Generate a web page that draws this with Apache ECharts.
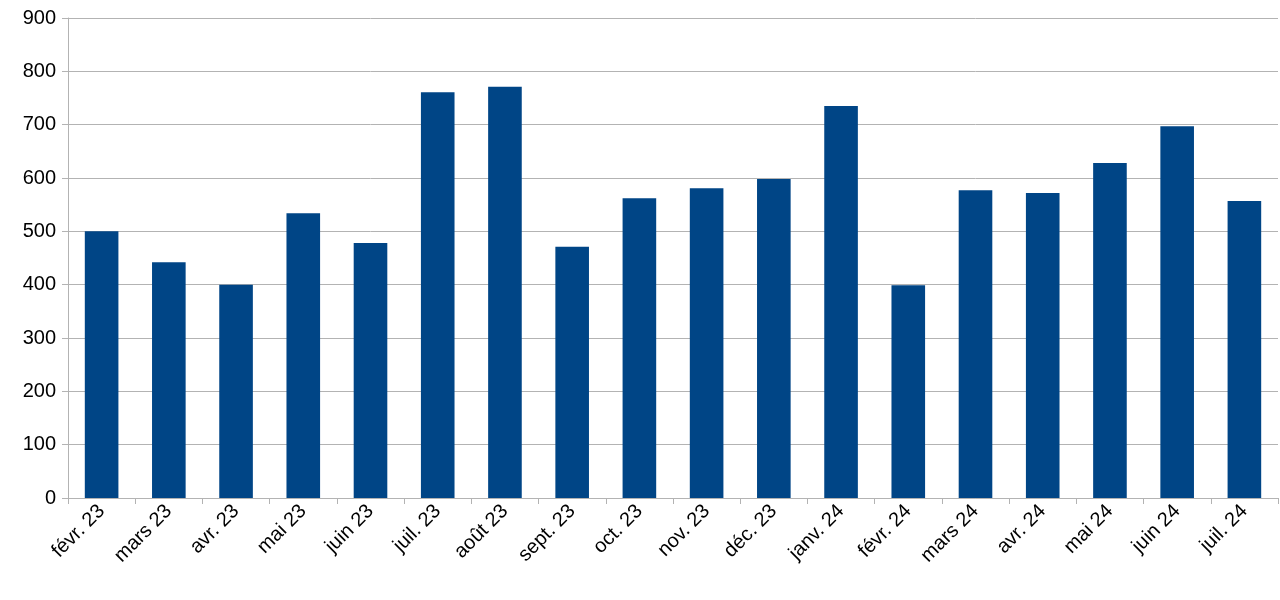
<!DOCTYPE html>
<html><head><meta charset="utf-8">
<script src="https://cdn.jsdelivr.net/npm/echarts@6/dist/echarts.min.js"></script>
<style>html,body{margin:0;background:#fff}#main{width:1280px;height:600px}</style>
</head><body><div id="main"></div>
<script>
var months = ['févr. 23','mars 23','avr. 23','mai 23','juin 23','juil. 23','août 23','sept. 23','oct. 23','nov. 23','déc. 23','janv. 24','févr. 24','mars 24','avr. 24','mai 24','juin 24','juil. 24'];
var values = [500,442,400,534,478,761,771,471,562,581,598,735,399,577,572,628,697,557];

var myChart = echarts.init(document.getElementById('main'));
var option = {
  animation: false,
  grid: {left: 68, right: 2, top: 18, bottom: 102},
  xAxis: {
    type: 'category',
    data: months,
    axisLine: {lineStyle: {color: '#b3b3b3'}},
    axisTick: {show: true, length: 6, lineStyle: {color: '#b3b3b3'}},
    axisLabel: {rotate: 45, color: '#000', fontFamily: 'Liberation Sans', fontSize: 20, margin: 10}
  },
  yAxis: {
    type: 'value', min: 0, max: 900, interval: 100,
    axisLine: {show: true, lineStyle: {color: '#b3b3b3'}},
    axisTick: {show: true, length: 6, lineStyle: {color: '#b3b3b3'}},
    splitLine: {lineStyle: {color: '#b3b3b3'}},
    axisLabel: {color: '#000', fontFamily: 'Liberation Sans', fontSize: 20, margin: 12}
  },
  series: [{
    type: 'bar',
    data: values,
    barWidth: '50%',
    itemStyle: {color: '#004586'}
  }]
};
myChart.setOption(option);
</script></body></html>
